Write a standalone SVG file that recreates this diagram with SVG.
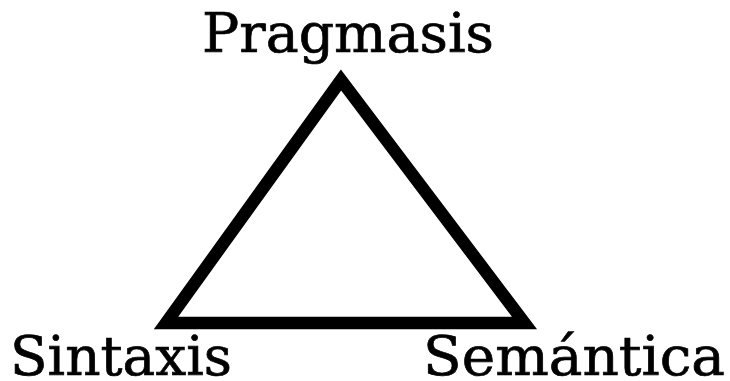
<svg xmlns="http://www.w3.org/2000/svg" width="730" height="381" viewBox="0 0 730 381">
<style>
.lbl{font-family:"DejaVu Serif","Liberation Serif",serif;font-size:55px;fill:#000;stroke:#000;stroke-width:0.7px}
</style>
<rect width="730" height="381" fill="#fff"/>
<g id="connectors">
<polygon points="341,80 166,323 524.5,323" fill="none" stroke="#000" stroke-width="12.5" stroke-linejoin="miter" stroke-miterlimit="10"/>
</g>
<g id="node-pragmasis"><text class="lbl" x="202" y="52" textLength="292" lengthAdjust="spacingAndGlyphs">Pragmasis</text></g>
<g id="node-sintaxis"><text class="lbl" x="10" y="375" textLength="222" lengthAdjust="spacingAndGlyphs">Sintaxis</text></g>
<g id="node-semantica"><text class="lbl" x="423" y="375" textLength="302" lengthAdjust="spacingAndGlyphs">Semántica</text></g>
</svg>
